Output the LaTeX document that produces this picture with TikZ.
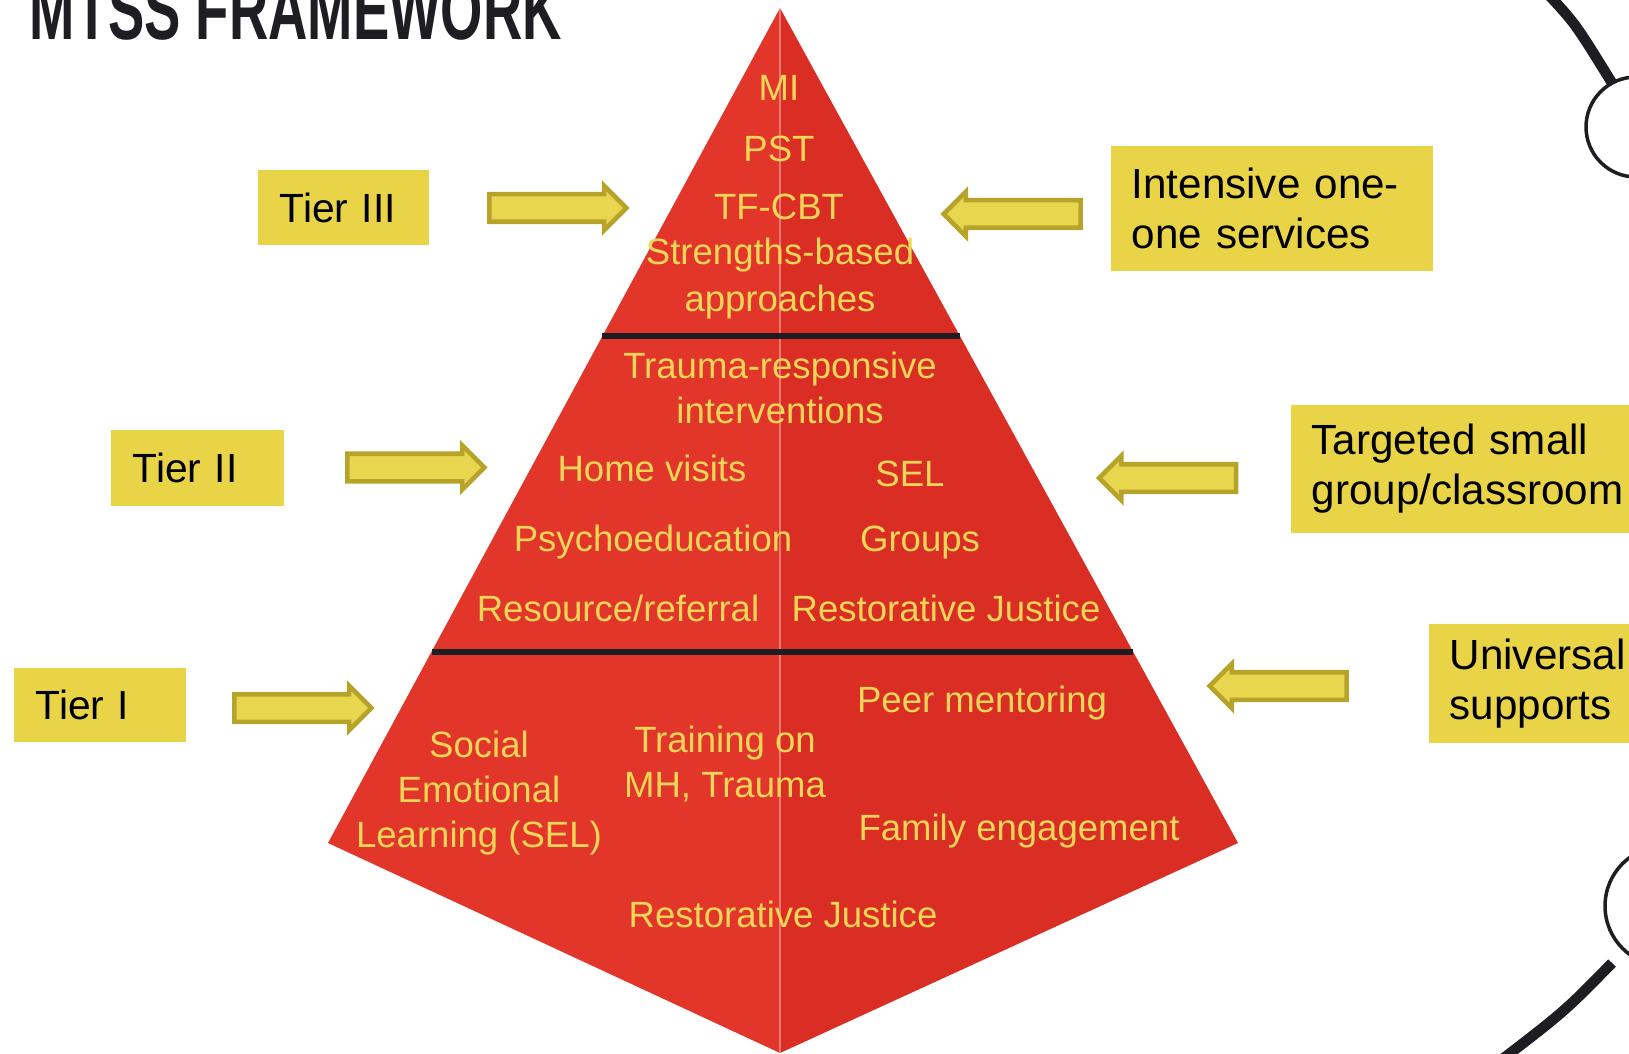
\documentclass[tikz,border=0pt]{standalone}
\usepackage{fontspec}
\setmainfont{Liberation Sans}
\usepackage{tikz}
\usetikzlibrary{shapes.arrows, calc, positioning}
\definecolor{pyrleft}{RGB}{226,54,42}
\definecolor{pyrright}{RGB}{218,45,35}
\definecolor{pyrtextcol}{RGB}{240,214,88}
\definecolor{boxyellow}{RGB}{233,212,72}
\definecolor{arrowfill}{RGB}{232,214,78}
\definecolor{arrowedge}{RGB}{182,164,42}
\definecolor{inkblack}{RGB}{30,30,34}

\begin{document}
\begin{tikzpicture}[
  pyrtext/.style={font=\fontsize{10.4}{12.8}\selectfont, text=pyrtextcol, inner sep=0pt, align=center},
  tierbox/.style={fill=boxyellow, font=\fontsize{11.6}{14}\selectfont, text=black, anchor=west, align=left, inner xsep=0.22cm, inner ysep=0pt},
  sidebox/.style={fill=boxyellow, font=\fontsize{12}{14.2}\selectfont, text=black, anchor=west, align=left, inner xsep=0.21cm, inner ysep=0pt},
  blockarrow/.style={single arrow, draw=arrowedge, fill=arrowfill, line width=1.3pt, minimum height=1.37cm, minimum width=0.42cm, single arrow head extend=0.085cm, inner xsep=0pt, inner ysep=0.115cm},
  ringline/.style={draw=inkblack, line width=3pt},
  ringdot/.style={draw=inkblack, fill=white, line width=1pt},
]
  \useasboundingbox (0,0) rectangle (16.29,10.53);
  \clip (0,0) rectangle (16.29,10.53);

  % Title (cut at the top)
  \node[anchor=base west, inner sep=0pt, text=inkblack, font=\fontsize{24}{24}\selectfont\bfseries] (title) at (0.29,10.13) {\scalebox{0.645}[1]{MTSS FRAMEWORK}};

  % Pyramid faces
  \coordinate (top) at (7.80,10.45);
  \coordinate (lft) at (3.28,2.10);
  \coordinate (rgt) at (12.38,2.10);
  \coordinate (bot) at (7.80,0.00);
  \fill[pyrleft] (top) -- (lft) -- (bot) -- cycle;
  \fill[pyrright] (top) -- (rgt) -- (bot) -- cycle;
  \draw[white, opacity=0.35, line width=0.4pt] (top) -- (bot);

  % Tier separators
  \draw[inkblack, line width=1.7pt] ($(top)!0.393!(lft)$) -- ($(top)!0.393!(rgt)$);
  \draw[inkblack, line width=1.7pt] ($(top)!0.771!(lft)$) -- ($(top)!0.771!(rgt)$);

  % Tier III contents
  \node[pyrtext, anchor=mid] (mi) at (7.79,9.62) {MI};
  \node[pyrtext, anchor=mid] (pst) at (7.79,9.01) {PST};
  \node[pyrtext, anchor=mid] (tfcbt) at (7.79,8.43) {TF-CBT};
  \node[pyrtext, anchor=mid] (strengths) at (7.80,7.98) {Strengths-based};
  \node[pyrtext, anchor=mid] (approaches) at (7.80,7.51) {approaches};

  % Tier II contents
  \node[pyrtext, anchor=mid] (trauma) at (7.80,6.84) {Trauma-responsive};
  \node[pyrtext, anchor=mid] (interv) at (7.80,6.39) {interventions};
  \node[pyrtext, anchor=mid] (homevisits) at (6.52,5.81) {Home visits};
  \node[pyrtext, anchor=mid] (selsmall) at (9.10,5.76) {SEL};
  \node[pyrtext, anchor=mid] (psychoed) at (6.53,5.11) {Psychoeducation};
  \node[pyrtext, anchor=mid] (groups) at (9.20,5.11) {Groups};
  \node[pyrtext, anchor=mid] (resource) at (6.18,4.41) {Resource/referral};
  \node[pyrtext, anchor=mid] (restortwo) at (9.46,4.41) {Restorative Justice};

  % Tier I contents
  \node[pyrtext, anchor=mid] (peer) at (9.82,3.50) {Peer mentoring};
  \node[pyrtext] (sel) at (4.79,2.60) {Social\\Emotional\\Learning (SEL)};
  \node[pyrtext] (training) at (7.25,2.89) {Training on\\MH, Trauma};
  \node[pyrtext, anchor=mid] (family) at (10.19,2.22) {Family engagement};
  \node[pyrtext, anchor=mid] (restorone) at (7.83,1.35) {Restorative Justice};

  % Tier labels on the left
  \node[tierbox, minimum width=1.71cm, minimum height=0.75cm, text width=1.27cm] (tierthree) at (2.57,8.455) {Tier III};
  \node[tierbox, minimum width=1.73cm, minimum height=0.76cm, text width=1.29cm] (tiertwo) at (1.10,5.85) {Tier II};
  \node[tierbox, minimum width=1.72cm, minimum height=0.74cm, text width=1.28cm] (tierone) at (0.13,3.48) {Tier I};

  % Service levels on the right
  \node[sidebox, minimum width=3.22cm, minimum height=1.25cm, text width=2.80cm] (intensive) at (11.10,8.445) {Intensive one-\\one services};
  \node[sidebox, minimum width=3.70cm, minimum height=1.28cm, text width=3.28cm] (targeted) at (12.90,5.84) {Targeted small\\group/classroom};
  \node[sidebox, minimum width=2.32cm, minimum height=1.19cm, text width=1.90cm] (universal) at (14.28,3.695) {Universal\\supports};

  % Block arrows
  \node[blockarrow] (arrthree) at (5.51,8.45) {};
  \node[blockarrow] (arrtwo) at (4.09,5.855) {};
  \node[blockarrow] (arrone) at (2.96,3.45) {};
  \node[blockarrow, shape border rotate=180] (arrintensive) at (10.19,8.39) {};
  \node[blockarrow, shape border rotate=180] (arrtargeted) at (11.745,5.75) {};
  \node[blockarrow, shape border rotate=180] (arruniversal) at (12.85,3.67) {};

  % Ring on the right edge
  \draw[ringline] (15.45,10.62) .. controls (15.75,10.30) .. (16.12,9.70);
  \draw[ringdot] (16.36,9.26) circle (0.50);
  \draw[ringline] (16.12,0.90) .. controls (15.65,0.42) .. (15.00,-0.08);
  \draw[ringdot] (16.65,1.47) circle (0.60);
\end{tikzpicture}
\end{document}
